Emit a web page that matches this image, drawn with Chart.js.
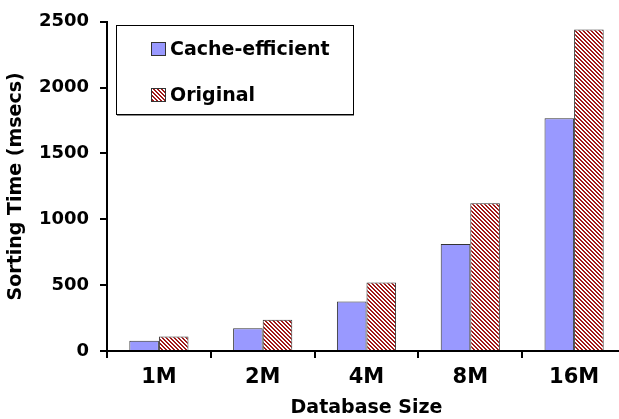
<!DOCTYPE html>
<html>
<head>
<meta charset="utf-8">
<script src="https://cdn.jsdelivr.net/npm/chart.js@4/dist/chart.umd.min.js"></script>
<style>
  html, body { margin: 0; padding: 0; background: #fff; overflow: hidden; }
  #wrap { width: 640px; height: 419px; position: relative; }
</style>
</head>
<body>
<div id="wrap"><canvas id="chart"></canvas></div>
<script>
// data
const sizes = ['1M', '2M', '4M', '8M', '16M'];
const cacheEfficient = [78, 172, 375, 812, 1768];
const original = [110, 238, 521, 1122, 2442];
const yTicks = [0, 500, 1000, 1500, 2000, 2500];

const FONT = "'DejaVu Sans', sans-serif";
const BLUE = '#9999ff';
const RED = '#a01818';

// diagonal hatch (\\\) for the "Original" bars
function hatch() {
  const c = document.createElement('canvas');
  c.width = 4; c.height = 4;
  const g = c.getContext('2d');
  g.fillStyle = '#fff';
  g.fillRect(0, 0, 4, 4);
  g.fillStyle = RED;
  for (let y = 0; y < 4; y++) {
    for (let x = 0; x < 4; x++) {
      const d = ((x - y) % 4 + 4) % 4;
      if (d === 0 || d === 1) g.fillRect(x, y, 1, 1);
    }
  }
  return g.createPattern(c, 'repeat');
}

// boxed legend inside the plot, like the original figure
const boxLegend = {
  id: 'boxLegend',
  afterDraw(chart) {
    const ctx = chart.ctx;
    const x = 116, y = 25, w = 237, h = 89;
    ctx.save();
    ctx.fillStyle = '#fff';
    ctx.fillRect(x, y, w, h);
    ctx.strokeStyle = '#888';
    ctx.lineWidth = 1;
    ctx.beginPath();
    ctx.moveTo(x + 1, y + h + 1.5); ctx.lineTo(x + w + 1, y + h + 1.5);
    ctx.stroke();
    ctx.strokeStyle = '#000';
    ctx.strokeRect(x + 0.5, y + 0.5, w, h);

    const rows = [49, 95];
    chart.data.datasets.forEach((ds, i) => {
      const cy = rows[i];
      ctx.fillStyle = ds.backgroundColor;
      ctx.fillRect(151, cy - 7, 15, 14);
      ctx.strokeStyle = '#333';
      ctx.strokeRect(151.5, cy - 6.5, 14, 13);
      ctx.fillStyle = '#000';
      ctx.font = 'bold 19px ' + FONT;
      ctx.textBaseline = 'middle';
      ctx.textAlign = 'left';
      ctx.fillText(ds.label, 170, cy + 1);
    });
    ctx.restore();
  }
};

new Chart(document.getElementById('chart'), {
  type: 'bar',
  data: {
    labels: sizes,
    datasets: [
      {
        label: 'Cache-efficient',
        data: cacheEfficient,
        backgroundColor: BLUE,
        borderColor: '#333',
        borderWidth: 1,
        categoryPercentage: 0.57,
        barPercentage: 1.0
      },
      {
        label: 'Original',
        data: original,
        backgroundColor: hatch(),
        borderColor: '#333',
        borderWidth: 1,
        categoryPercentage: 0.57,
        barPercentage: 1.0
      }
    ]
  },
  options: {
    responsive: true,
    maintainAspectRatio: false,
    animation: false,
    layout: { padding: { left: 0, right: 14, top: 15, bottom: 0 } },
    plugins: {
      legend: { display: false },
      tooltip: { enabled: false }
    },
    scales: {
      x: {
        grid: {
          offset: true,
          drawOnChartArea: false,
          drawTicks: true,
          tickLength: 7,
          color: '#000',
          lineWidth: 2
        },
        border: { display: true, color: '#000', width: 2 },
        ticks: {
          color: '#000',
          padding: 7,
          maxRotation: 0,
          font: { family: FONT, size: 21, weight: 'bold' }
        },
        title: {
          display: true,
          text: 'Database Size',
          color: '#000',
          padding: { top: 0, bottom: 0 },
          font: { family: FONT, size: 19, weight: 'bold' }
        },
        afterFit: s => { s.height = 68; }
      },
      y: {
        min: yTicks[0],
        max: yTicks[yTicks.length - 1],
        afterBuildTicks: s => { s.ticks = yTicks.map(v => ({ value: v })); },
        grid: {
          drawOnChartArea: false,
          drawTicks: true,
          tickLength: 7,
          color: '#000',
          lineWidth: 2
        },
        border: { display: true, color: '#000', width: 2 },
        ticks: {
          color: '#000',
          padding: 11,
          callback: v => String(v),
          font: { family: FONT, size: 18, weight: 'bold' }
        },
        title: {
          display: true,
          text: 'Sorting Time (msecs)',
          color: '#000',
          padding: { top: 5, bottom: 0 },
          font: { family: FONT, size: 19, weight: 'bold' }
        },
        afterFit: s => { s.width = 107; }
      }
    }
  },
  plugins: [boxLegend]
});
</script>
</body>
</html>
